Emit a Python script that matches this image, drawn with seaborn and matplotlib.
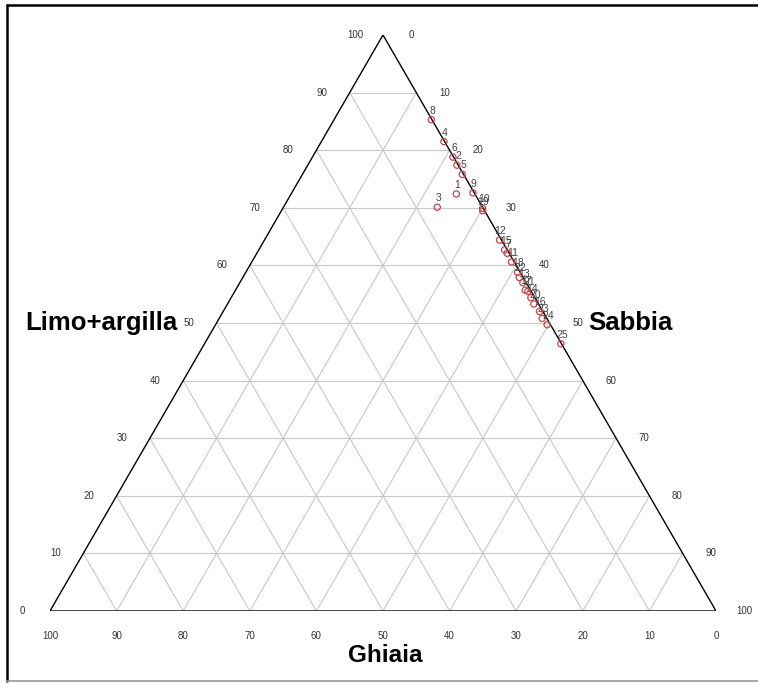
import numpy as np
import pandas as pd
import matplotlib
matplotlib.use("Agg")
import matplotlib.pyplot as plt
from matplotlib.lines import Line2D
import seaborn as sns

# Grain-size composition of the samples (percent)
sample_ids = list(range(1, 26))
sabbia = [24.8, 22.4, 23.1, 18.4, 24.0, 21.1, 37.6, 14.6, 27.2, 30.0,
          39.0, 35.3, 42.5, 45.0, 36.9, 47.5, 43.5, 40.8, 30.2, 46.0,
          44.0, 41.5, 48.5, 49.8, 53.5]
ghiaia = [2.8, 0.2, 6.8, 0.1, 0.2, 0.1, 0.3, 0.1, 0.2, 0.1,
          0.4, 0.3, 0.5, 0.6, 0.4, 0.5, 0.8, 0.4, 0.3, 0.7,
          0.5, 0.6, 0.7, 0.5, 0.1]
limo_argilla = [100 - s - g for s, g in zip(sabbia, ghiaia)]

tick_values = list(range(0, 101, 10))
axis_titles = {"left": "Limo+argilla", "right": "Sabbia", "bottom": "Ghiaia"}

H = np.sqrt(3) / 2


def to_xy(s, l):
    """Ternary (Sabbia, Limo+argilla) -> cartesian; Ghiaia is the remainder."""
    s = np.asarray(s, dtype=float) / 100
    l = np.asarray(l, dtype=float) / 100
    return s + l / 2, l * H


sns.set_theme(style="white")
plt.rcParams["font.family"] = ["Liberation Sans", "DejaVu Sans"]

W, Hpx = 758, 684
fig = plt.figure(figsize=(W / 100, Hpx / 100), dpi=100)
fig.patch.set_facecolor("white")

# triangle corners in pixels: (50,611) (716,611) (383,35)
ax = fig.add_axes([50 / W, (Hpx - 611) / Hpx, 666 / W, 576 / Hpx])
ax.set_xlim(0, 1)
ax.set_ylim(0, H)
ax.axis("off")

grid_kw = dict(color="#c8c8c8", lw=0.8, zorder=1)
for k in tick_values[1:-1]:
    # constant Limo+argilla
    x, y = to_xy([0, 100 - k], [k, k])
    ax.plot(x, y, **grid_kw)
    # constant Sabbia
    x, y = to_xy([k, k], [0, 100 - k])
    ax.plot(x, y, **grid_kw)
    # constant Ghiaia
    x, y = to_xy([100 - k, 0], [0, 100 - k])
    ax.plot(x, y, **grid_kw)

# outline
ax.plot([0, 1, 0.5, 0], [0, 0, H, 0], color="black", lw=1.0, zorder=2)

tick_kw = dict(fontsize=7, color="#333333", ha="center", va="center",
               textcoords="offset pixels", annotation_clip=False)
for k in tick_values:
    x, y = to_xy(0, k)
    ax.annotate(str(k), (x, y), xytext=(-28, 0), **tick_kw)
    x, y = to_xy(k, 100 - k)
    ax.annotate(str(k), (x, y), xytext=(28, 0), **tick_kw)
    x, y = to_xy(100 - k, 0)
    ax.annotate(str(k), (x, y), xytext=(0, -25), **tick_kw)

df = pd.DataFrame({"id": sample_ids, "Sabbia": sabbia,
                   "Ghiaia": ghiaia, "Limo+argilla": limo_argilla})
df["x"], df["y"] = to_xy(df["Sabbia"], df["Limo+argilla"])

sns.scatterplot(data=df, x="x", y="y", ax=ax, marker="o", s=20,
                facecolor="none", edgecolor="#c04848", linewidth=0.9,
                zorder=4, legend=False)
for _, r in df.iterrows():
    ax.annotate(str(int(r["id"])), (r["x"], r["y"]), xytext=(1, 9),
                textcoords="offset pixels", fontsize=7.5, color="#444444",
                ha="center", va="center", zorder=5)

title_kw = dict(fontweight="bold", color="black", va="center")
fig.text(25 / W, 1 - 323 / Hpx, axis_titles["left"], ha="left",
         fontsize=18.5, **title_kw)
fig.text(588 / W, 1 - 323 / Hpx, axis_titles["right"], ha="left",
         fontsize=18.5, **title_kw)
fig.text(385 / W, 1 - 656 / Hpx, axis_titles["bottom"], ha="center",
         fontsize=17.5, **title_kw)

# picture frame
fig.add_artist(Line2D([7 / W, 1], [1 - 5 / Hpx, 1 - 5 / Hpx],
                      transform=fig.transFigure, color="black", lw=1.8))
fig.add_artist(Line2D([7 / W, 7 / W], [1 - 5 / Hpx, 1 - 681 / Hpx],
                      transform=fig.transFigure, color="black", lw=1.8))
fig.add_artist(Line2D([7 / W, 1], [1 - 681 / Hpx, 1 - 681 / Hpx],
                      transform=fig.transFigure, color="#999999", lw=1.2))

fig.savefig("out.png", dpi=100)
